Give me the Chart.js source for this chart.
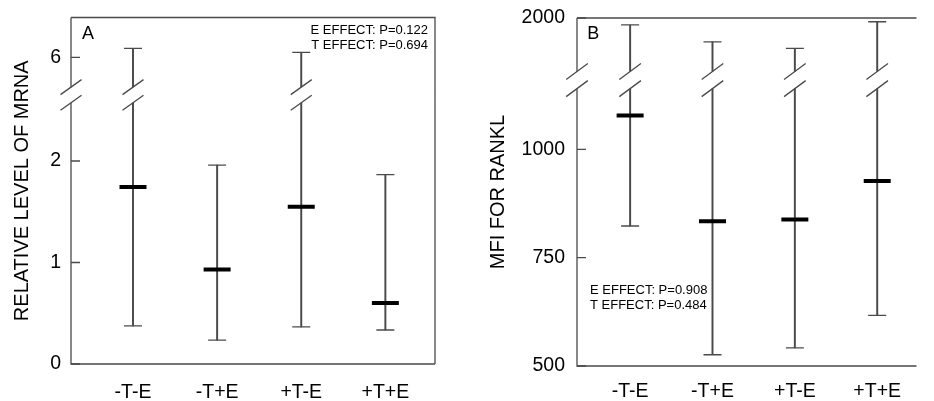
<!DOCTYPE html>
<html>
<head>
<meta charset="utf-8">
<script src="https://cdn.jsdelivr.net/npm/chart.js@4.4.1/dist/chart.umd.min.js"></script>
<style>
  html, body { margin: 0; padding: 0; background: #fff; }
  #wrap { position: relative; width: 934px; height: 401px; }
  canvas { position: absolute; top: 0; }
</style>
</head>
<body>
<div id="wrap">
  <canvas id="chartA" width="467" height="401" style="left:0"></canvas>
  <canvas id="chartB" width="467" height="401" style="left:467px"></canvas>
</div>
<script>
// Data
const groups = ['-T-E', '-T+E', '+T-E', '+T+E'];

const medianA = [1.745, 0.93, 1.55, 0.60];
const lowA = [0.375, 0.235, 0.365, 0.335];
const highA = [6.225, 1.96, 6.125, 1.865];
const yTicksA = [0, 1, 2, 6];
const statsA = ['E EFFECT: P=0.122', 'T EFFECT: P=0.694'];

const medianB = [1078, 834, 838, 927];
const lowB = [823, 526, 542, 617];
const highB = [1935, 1778, 1717, 1965];
const yTicksB = [500, 750, 1000, 2000];
const statsB = ['E EFFECT: P=0.908', 'T EFFECT: P=0.484'];

const FONT = "'Liberation Sans', Arial, sans-serif";
const LINE = '#4a4a4a';

// Linear scale with a gap: [min, breakLow] below, [breakHigh, max] above
class BrokenLinearScale extends Chart.LinearScale {
    knots() {
        const o = this.options;
        return {
            v: [this.min, o.breakLow, o.breakHigh, this.max],
            f: [0, o.fracLow, o.fracHigh, 1]
        };
    }
    getPixelForValue(value) {
        const k = this.knots();
        let i = 0;
        while (i < 2 && value > k.v[i + 1]) i++;
        const t = (value - k.v[i]) / (k.v[i + 1] - k.v[i]);
        return this.getPixelForDecimal(k.f[i] + t * (k.f[i + 1] - k.f[i]));
    }
    getValueForPixel(pixel) {
        const k = this.knots();
        const d = this.getDecimalForPixel(pixel);
        let i = 0;
        while (i < 2 && d > k.f[i + 1]) i++;
        const t = (d - k.f[i]) / (k.f[i + 1] - k.f[i]);
        return k.v[i] + t * (k.v[i + 1] - k.v[i]);
    }
}
BrokenLinearScale.id = 'brokenLinear';
BrokenLinearScale.defaults = Chart.LinearScale.defaults;
Chart.register(BrokenLinearScale);

// Box, break marks, inner ticks, panel letter and p-values
function decorPlugin(cfg) {
    return {
        id: 'decor',
        afterDraw(chart) {
            const { ctx, chartArea: a, scales: { x, y } } = chart;
            const gapTop = y.getPixelForValue(cfg.breakHigh);
            const gapBot = y.getPixelForValue(cfg.breakLow);
            ctx.save();
            ctx.strokeStyle = LINE;
            ctx.lineWidth = 1.3;

            // frame, left side interrupted at the break
            ctx.beginPath();
            ctx.moveTo(a.left, a.top);
            ctx.lineTo(a.left, gapTop);
            ctx.moveTo(a.left, gapBot);
            ctx.lineTo(a.left, a.bottom);
            ctx.lineTo(a.right, a.bottom);
            ctx.moveTo(a.left, a.top);
            ctx.lineTo(a.right, a.top);
            if (cfg.rightBorder) ctx.lineTo(a.right, a.bottom);
            ctx.stroke();

            // inward tick marks
            ctx.beginPath();
            cfg.yTicks.forEach(v => {
                const py = y.getPixelForValue(v);
                ctx.moveTo(a.left, py);
                ctx.lineTo(a.left + 9, py);
            });
            ctx.stroke();

            // cut whiskers that cross the break
            const breakXs = [a.left];
            groups.forEach((g, i) => {
                if (cfg.high[i] > cfg.breakHigh) {
                    const px = x.getPixelForValue(i + 1);
                    breakXs.push(px);
                    ctx.fillStyle = '#fff';
                    ctx.fillRect(px - 2.5, gapTop, 5, gapBot - gapTop);
                }
            });

            // double slashes
            ctx.beginPath();
            breakXs.forEach(px => {
                [gapTop, gapBot].forEach(py => {
                    ctx.moveTo(px - cfg.slashDx, py + cfg.slashDy);
                    ctx.lineTo(px + cfg.slashDx, py - cfg.slashDy);
                });
            });
            ctx.stroke();

            // panel letter
            ctx.fillStyle = '#000';
            ctx.textBaseline = 'middle';
            ctx.textAlign = 'left';
            ctx.font = '18px ' + FONT;
            ctx.fillText(cfg.letter, cfg.letterX, cfg.letterY);

            // p-values
            ctx.font = '13px ' + FONT;
            ctx.textAlign = cfg.statsAlign;
            cfg.stats.forEach((s, i) => {
                ctx.fillText(s, cfg.statsX, cfg.statsY + i * 15);
            });
            ctx.restore();
        }
    };
}

function makeChart(canvasId, cfg) {
    const xs = groups.map((g, i) => i + 1);
    return new Chart(document.getElementById(canvasId), {
        type: 'scatter',
        data: {
            datasets: [{
                label: 'Median',
                data: xs.map((x, i) => ({ x: x, y: cfg.median[i] })),
                pointStyle: 'line',
                pointRadius: 13.5,
                pointBorderWidth: 4,
                pointBorderColor: '#000',
                order: 0
            }, {
                label: 'Range ends',
                data: xs.flatMap((x, i) => [{ x: x, y: cfg.low[i] }, { x: x, y: cfg.high[i] }]),
                pointStyle: 'line',
                pointRadius: 9,
                pointBorderWidth: 1.3,
                pointBorderColor: LINE,
                order: 1
            }, {
                type: 'bar',
                label: 'Range',
                data: xs.map((x, i) => ({ x: x, y: [cfg.low[i], cfg.high[i]] })),
                barThickness: 1.3,
                backgroundColor: LINE,
                borderWidth: 0,
                order: 2
            }]
        },
        options: {
            responsive: false,
            animation: false,
            events: [],
            layout: { padding: { top: cfg.padTop, right: cfg.padRight, left: 0, bottom: 0 } },
            plugins: {
                legend: { display: false },
                tooltip: { enabled: false }
            },
            scales: {
                x: {
                    type: 'linear',
                    min: cfg.xMin,
                    max: cfg.xMax,
                    offset: false,
                    grid: { display: false, drawTicks: false },
                    border: { display: false },
                    afterBuildTicks: s => { s.ticks = xs.map(v => ({ value: v })); },
                    ticks: {
                        padding: cfg.xPad,
                        color: '#000',
                        autoSkip: false,
                        maxRotation: 0,
                        font: { family: FONT, size: 19.5 },
                        callback: v => groups[v - 1]
                    },
                    afterFit: s => {
                        s.height = cfg.xHeight;
                        s.paddingLeft = 0;
                        s.paddingRight = 0;
                    }
                },
                y: {
                    type: 'brokenLinear',
                    min: cfg.yMin,
                    max: cfg.yMax,
                    breakLow: cfg.breakLow,
                    breakHigh: cfg.breakHigh,
                    fracLow: cfg.fracLow,
                    fracHigh: cfg.fracHigh,
                    grid: { display: false, drawTicks: false },
                    border: { display: false },
                    afterBuildTicks: s => { s.ticks = cfg.yTicks.map(v => ({ value: v })); },
                    ticks: {
                        padding: cfg.yPad,
                        color: '#000',
                        font: { family: FONT, size: 19.5 },
                        callback: v => String(v)
                    },
                    title: {
                        display: true,
                        text: cfg.title,
                        color: '#000',
                        font: { family: FONT, size: 20 },
                        padding: { top: cfg.titlePad, bottom: 0 }
                    },
                    afterFit: s => {
                        s.width = cfg.yWidth;
                        s.paddingTop = 0;
                        s.paddingBottom = 0;
                    }
                }
            }
        },
        plugins: [decorPlugin(cfg)]
    });
}

makeChart('chartA', {
    median: medianA, low: lowA, high: highA, yTicks: yTicksA, stats: statsA,
    title: 'RELATIVE LEVEL OF MRNA', letter: 'A',
    xMin: 0.263, xMax: 4.59,
    yMin: 0, yMax: 7, breakLow: 2.574, breakHigh: 5.25, fracLow: 0.754, fracHigh: 0.799,
    yWidth: 71, xHeight: 37, padTop: 16, padRight: 32,
    titlePad: 10.5, yPad: 10, xPad: 17,
    rightBorder: true, slashDx: 10.5, slashDy: 7.5,
    letterX: 82, letterY: 34,
    statsAlign: 'right', statsX: 428, statsY: 30.5
});

makeChart('chartB', {
    median: medianB, low: lowB, high: highB, yTicks: yTicksB, stats: statsB,
    title: 'MFI FOR RANKL', letter: 'B',
    xMin: 0.355, xMax: 4.477,
    yMin: 500, yMax: 2000, breakLow: 1140, breakHigh: 1500, fracLow: 0.797, fracHigh: 0.846,
    yWidth: 110, xHeight: 35, padTop: 18, padRight: 0,
    titlePad: 19, yPad: 12, xPad: 14,
    rightBorder: false, slashDx: 10.8, slashDy: 8,
    letterX: 120.3, letterY: 34,
    statsAlign: 'left', statsX: 123, statsY: 290.7
});
</script>
</body>
</html>
